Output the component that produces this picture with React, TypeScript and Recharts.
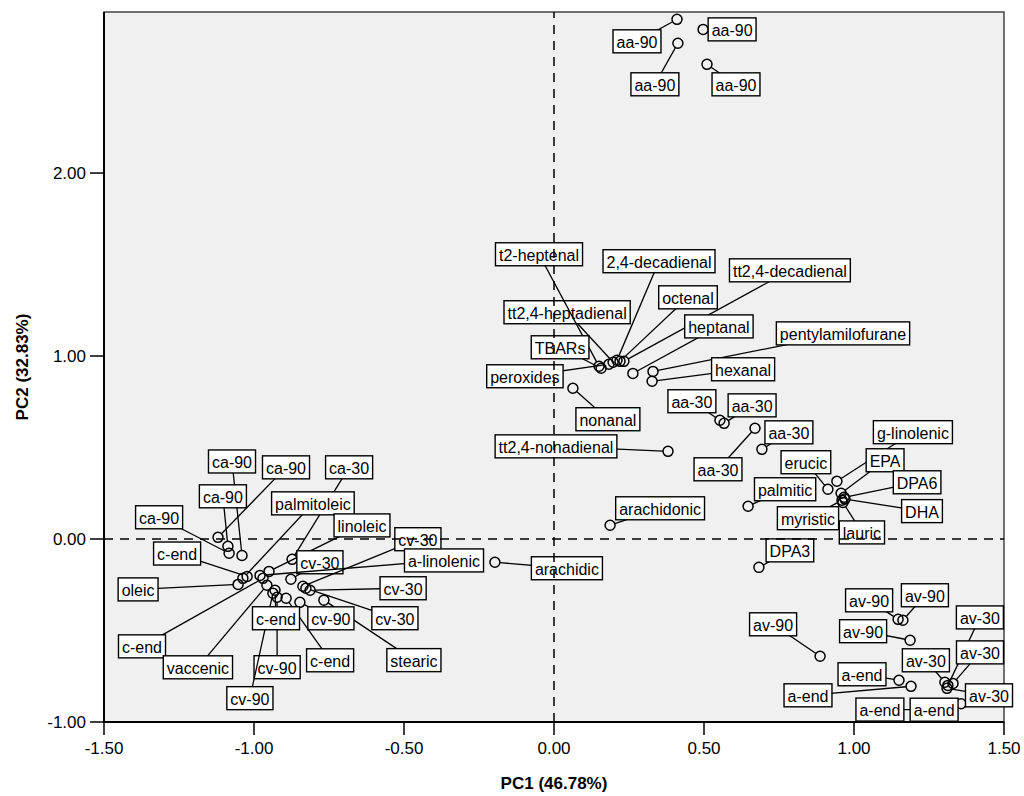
import {
  Label,
  ReferenceArea,
  ReferenceLine,
  Scatter,
  ScatterChart,
  XAxis,
  YAxis,
} from "recharts";

// point names, PC1 and PC2 scores
const names = [
  "aa-90", "aa-90", "aa-90", "aa-90",
  "tt2,4-heptadienal", "t2-heptenal", "TBARs", "peroxides", "2,4-decadienal",
  "octenal", "tt2,4-decadienal", "heptanal", "pentylamilofurane", "hexanal",
  "nonanal", "tt2,4-nonadienal",
  "aa-30", "aa-30", "aa-30", "aa-30",
  "arachidonic", "arachidic", "palmitic", "DPA3", "erucic", "g-linolenic",
  "EPA", "DPA6", "DHA", "myristic", "lauric",
  "av-90", "av-90", "av-90", "av-90",
  "av-30", "av-30", "av-30", "av-30",
  "a-end", "a-end", "a-end", "a-end",
  "ca-90", "ca-90", "ca-90", "ca-90", "ca-30",
  "palmitoleic", "linoleic", "cv-30", "cv-30", "a-linolenic", "cv-30", "cv-30",
  "stearic", "cv-90", "c-end", "cv-90", "cv-90", "c-end",
  "c-end", "oleic", "c-end", "vaccenic",
];

const pc1 = [
  0.41, 0.497, 0.413, 0.51,
  0.197, 0.15, 0.157, 0.183, 0.21,
  0.22, 0.233, 0.263, 0.33, 0.327,
  0.063, 0.38,
  0.553, 0.567, 0.67, 0.693,
  0.187, -0.197, 0.647, 0.683, 0.913, 0.943,
  0.957, 0.967, 0.97, 0.96, 0.963,
  0.887, 1.147, 1.163, 1.187,
  1.303, 1.313, 1.33, 1.31,
  1.15, 1.19, 1.253, 1.357,
  -1.04, -1.087, -1.12, -1.083, -0.873,
  -1.037, -0.95, -0.877, -0.837, -0.98, -0.813, -0.827,
  -0.767, -0.847, -0.893, -0.923, -0.937, -0.93,
  -1.023, -1.053, -0.97, -0.957,
];

const pc2 = [
  2.84, 2.785, 2.709, 2.594,
  0.966, 0.944, 0.933, 0.955, 0.977,
  0.971, 0.971, 0.905, 0.916, 0.862,
  0.824, 0.479,
  0.649, 0.632, 0.605, 0.49,
  0.075, -0.127, 0.179, -0.155, 0.272, 0.316,
  0.25, 0.228, 0.218, 0.212, 0.2,
  -0.641, -0.439, -0.444, -0.553,
  -0.783, -0.8, -0.789, -0.816,
  -0.772, -0.805, -0.932, -0.9,
  -0.09, -0.04, 0.009, -0.078, -0.111,
  -0.215, -0.177, -0.22, -0.258, -0.199, -0.28, -0.269,
  -0.334, -0.346, -0.324, -0.318, -0.296, -0.28,
  -0.205, -0.248, -0.215, -0.253,
];

// where each label box sits, as a pixel offset of its centre from the point
const labelDx = [
  -40, 29, -23, 29,
  -46, -60, -41, -84, 42,
  68, 166, 86, 190, 91,
  35, -112,
  -28, 28, -37, 27,
  50, 72, 37, 31, -22, 76,
  44, 73, 77, -34, 19,
  -47, -29, 22, -47,
  -19, 32, 27, 42,
  -37, -103, -50, -27,
  -10, -5, 68, -70, 57,
  70, 93, 29, 115, 184, 93, 89,
  90, 31, 44, 0, -23, 1,
  -70, -100, -121, -69,
];

const labelDy = [
  22, 0, 41, 20,
  -50, -112, -21, 12, -99,
  -64, -91, -47, -38, -12,
  31, -5,
  -19, -18, 41, -17,
  -17, 6, -17, -17, -27, -49,
  -33, -15, 12, 18, 30,
  -32, -19, -25, -9,
  -22, -68, -31, 7,
  -6, 9, 0, 6,
  -94, -50, -70, -36, -92,
  -75, -46, -17, -47, -15, -2, 30,
  60, 16, 62, 70, 105, 28,
  -23, 5, 68, 82,
];

const xTicks = [-1.5, -1, -0.5, 0, 0.5, 1, 1.5];
const yTicks = [-1, 0, 1, 2];

const points = names.map((name, i) => ({ name, i, x: pc1[i], y: pc2[i] }));

const FONT = "'Liberation Sans', Arial, Helvetica, sans-serif";
const R = 5;

let ctx: CanvasRenderingContext2D | null = null;
const textWidth = (s: string) => {
  if (!ctx) ctx = document.createElement("canvas").getContext("2d");
  if (!ctx) return s.length * 8;
  ctx.font = `16px ${FONT}`;
  return ctx.measureText(s).width;
};

const Dot = (props: any) => (
  <circle
    cx={props.cx}
    cy={props.cy}
    r={R}
    fill="none"
    stroke="#000"
    strokeWidth={1.5}
  />
);

const Tag = (props: any) => {
  const { cx, cy, payload } = props;
  const bx = cx + labelDx[payload.i];
  const by = cy + labelDy[payload.i];
  const w = textWidth(payload.name) + 7;
  const h = 23;
  const d = Math.hypot(bx - cx, by - cy) || 1;
  const sx = cx + ((bx - cx) / d) * R;
  const sy = cy + ((by - cy) / d) * R;
  return (
    <g>
      <line x1={sx} y1={sy} x2={bx} y2={by} stroke="#000" strokeWidth={1.3} />
      <rect
        x={bx - w / 2}
        y={by - h / 2}
        width={w}
        height={h}
        fill="#fff"
        stroke="#000"
        strokeWidth={1.4}
      />
      <text
        x={bx}
        y={by + 1}
        textAnchor="middle"
        dominantBaseline="central"
        fontSize={16}
        fontFamily={FONT}
        fill="#000"
      >
        {payload.name}
      </text>
    </g>
  );
};

const XTitle = (props: any) => {
  const vb = props.viewBox;
  return (
    <text
      x={vb.x + vb.width / 2}
      y={vb.y + 61}
      textAnchor="middle"
      dominantBaseline="central"
      fontSize={17}
      fontWeight="bold"
      fontFamily={FONT}
    >
      PC1 (46.78%)
    </text>
  );
};

const YTitle = (props: any) => {
  const vb = props.viewBox;
  const x = vb.x + 22;
  const y = vb.y + vb.height / 2;
  return (
    <text
      x={x}
      y={y}
      transform={`rotate(-90 ${x} ${y})`}
      textAnchor="middle"
      dominantBaseline="central"
      fontSize={17}
      fontWeight="bold"
      fontFamily={FONT}
    >
      PC2 (32.83%)
    </text>
  );
};

const fmt = (v: number) => v.toFixed(2);

export default function App() {
  return (
    <div style={{ position: "absolute", left: 0, top: 0, fontFamily: FONT }}>
      <ScatterChart
        width={1024}
        height={796}
        margin={{ top: 12, right: 20, bottom: 0, left: 0 }}
      >
        <ReferenceArea
          x1={-1.5}
          x2={1.5}
          y1={-1}
          y2={2.88}
          fill="#f0f0f0"
          fillOpacity={1}
          stroke="#444"
          strokeWidth={1.5}
        />
        <XAxis
          type="number"
          dataKey="x"
          domain={[-1.5, 1.5]}
          ticks={xTicks}
          tickFormatter={fmt}
          height={74}
          tickSize={13}
          tickMargin={7}
          axisLine={{ stroke: "#000", strokeWidth: 2 }}
          tickLine={{ stroke: "#000", strokeWidth: 1.5 }}
          tick={{ fontSize: 17, fill: "#000", fontFamily: FONT }}
        >
          <Label content={XTitle} />
        </XAxis>
        <YAxis
          type="number"
          dataKey="y"
          domain={[-1, 2.88]}
          ticks={yTicks}
          tickFormatter={fmt}
          width={104}
          tickSize={14}
          tickMargin={4}
          axisLine={{ stroke: "#000", strokeWidth: 2 }}
          tickLine={{ stroke: "#000", strokeWidth: 1.5 }}
          tick={{ fontSize: 17, fill: "#000", fontFamily: FONT }}
        >
          <Label content={YTitle} />
        </YAxis>
        <Scatter data={points} shape={Dot} isAnimationActive={false} />
        <Scatter data={points} shape={Tag} isAnimationActive={false} />
        <ReferenceLine
          x={0}
          stroke="#000"
          strokeWidth={1.5}
          strokeDasharray="9 7"
          zIndex={2000}
        />
        <ReferenceLine
          y={0}
          stroke="#000"
          strokeWidth={1.5}
          strokeDasharray="9 7"
          zIndex={2000}
        />
      </ScatterChart>
    </div>
  );
}
